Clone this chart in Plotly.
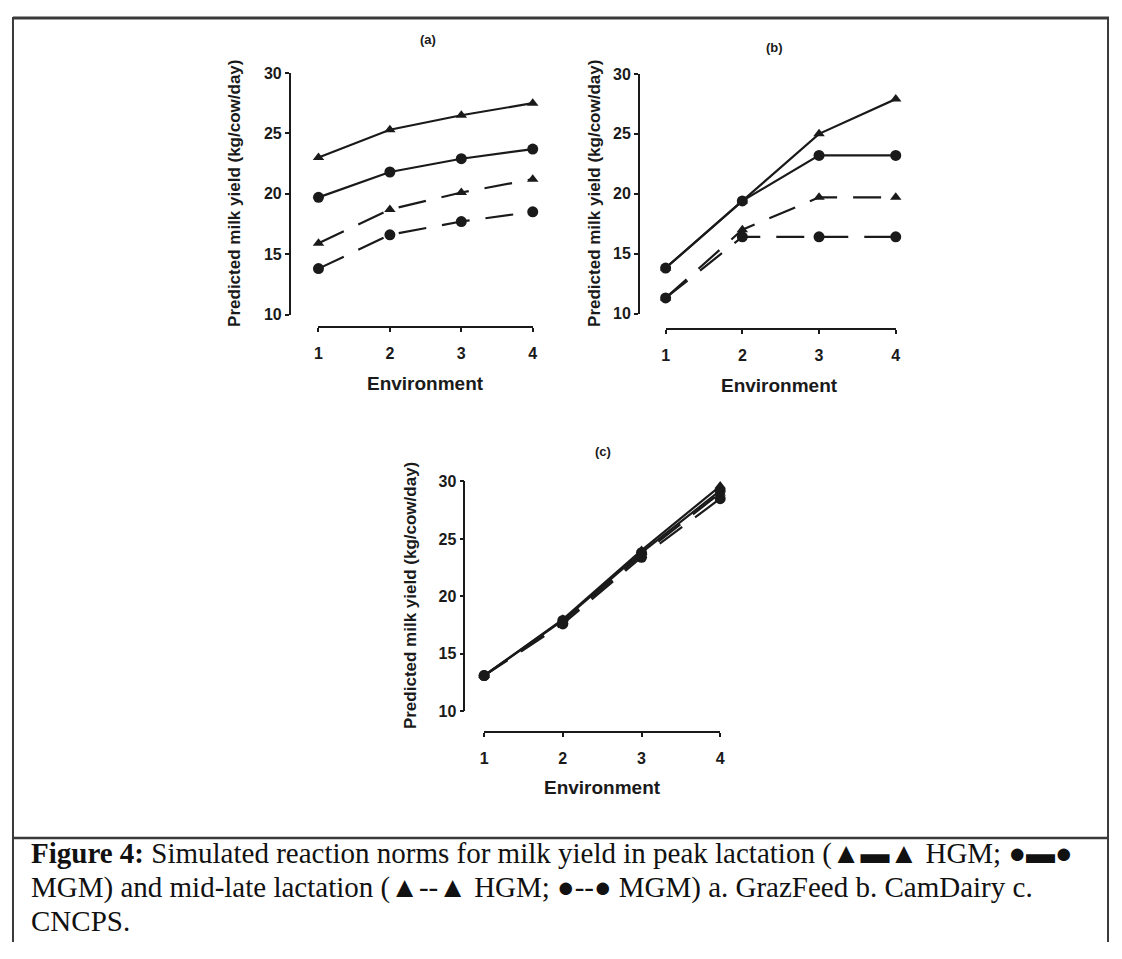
import plotly.graph_objects as go

# ---------------- data ----------------
environment = [1, 2, 3, 4]
y_ticks = [10, 15, 20, 25, 30]

# (a) GrazFeed
a_hgm_peak = [23.0, 25.3, 26.5, 27.5]
a_mgm_peak = [19.7, 21.8, 22.9, 23.7]
a_hgm_mid = [15.9, 18.7, 20.1, 21.2]
a_mgm_mid = [13.8, 16.6, 17.7, 18.5]

# (b) CamDairy
b_hgm_peak = [13.8, 19.4, 25.0, 27.9]
b_mgm_peak = [13.8, 19.4, 23.2, 23.2]
b_hgm_mid = [11.3, 17.0, 19.7, 19.7]
b_mgm_mid = [11.3, 16.4, 16.4, 16.4]

# (c) CNCPS
c_hgm_peak = [13.1, 18.0, 24.0, 29.6]
c_mgm_peak = [13.1, 17.9, 23.8, 29.2]
c_hgm_mid = [13.1, 17.8, 23.6, 29.0]
c_mgm_mid = [13.1, 17.6, 23.4, 28.5]

panel_labels = ["(a)", "(b)", "(c)"]
y_title = "Predicted milk yield (kg/cow/day)"
x_title = "Environment"
caption_lines = [
    "<b>Figure 4:</b> Simulated reaction norms for milk yield in peak lactation (▲▬▲ HGM; ●▬●",
    "MGM) and mid-late lactation (▲--▲ HGM; ●--● MGM) a. GrazFeed b. CamDairy c.",
    "CNCPS.",
]

# page is 1122x959; the html body has an 8px margin, so the figure is 1106x943
PAGE_OFF = 8
W, H = 1122 - 2 * PAGE_OFF, 959 - 2 * PAGE_OFF
FONT = "Liberation Sans, Arial, sans-serif"
SERIF = "Liberation Serif, Times New Roman, serif"
INK = "#1a1a1a"


def px(x):
    return (x - PAGE_OFF) / W


def py(y):
    return 1 - (y - PAGE_OFF) / H


fig = go.Figure()

panels = [
    # series, x-domain px, y-domain px (top,bottom), y-axis x px, x-axis y px
    ((a_hgm_peak, a_mgm_peak, a_hgm_mid, a_mgm_mid), (317, 533), (66, 312), 288, 325),
    ((b_hgm_peak, b_mgm_peak, b_hgm_mid, b_mgm_mid), (667, 899), (67, 311), 640, 327),
    ((c_hgm_peak, c_mgm_peak, c_hgm_mid, c_mgm_mid), (484, 722), (482, 716), 464, 737),
]

styles = [
    ("triangle-up", "solid"),
    ("circle", "solid"),
    ("triangle-up", "28px,16px"),
    ("circle", "28px,16px"),
]

layout_axes = {}
for i, (series, xd, yd, yax_x, xax_y) in enumerate(panels):
    n = "" if i == 0 else str(i + 1)
    for vals, (sym, dash) in zip(series, styles):
        fig.add_trace(go.Scatter(
            x=environment, y=vals, mode="lines+markers",
            xaxis="x" + n, yaxis="y" + n, cliponaxis=False,
            line=dict(color=INK, width=2.2, dash=dash),
            marker=dict(symbol=sym, size=11 if sym == "circle" else 10, color=INK),
            showlegend=False, hoverinfo="skip",
        ))
    layout_axes["xaxis" + n] = dict(
        domain=[px(xd[0]), px(xd[1])], range=[1, 4], anchor="free", position=py(xax_y),
        showline=True, linecolor=INK, linewidth=1.5, ticks="outside", ticklen=4,
        tickwidth=1.5, tickcolor=INK, tickvals=environment, showgrid=False, zeroline=False,
        tickfont=dict(family=FONT, size=16, color=INK, weight="bold"),
        ticklabelstandoff=8,
    )
    layout_axes["yaxis" + n] = dict(
        domain=[py(yd[1]), py(yd[0])], range=[10, 30], anchor="free", position=px(yax_x),
        showline=True, linecolor=INK, linewidth=1.5, ticks="outside", ticklen=4,
        tickwidth=1.5, tickcolor=INK, tickvals=y_ticks, showgrid=False, zeroline=False,
        tickfont=dict(family=FONT, size=16, color=INK, weight="bold"),
    )

annotations = []


def ann(text, x, y, size, angle=0, family=FONT, xanchor="center", color=INK):
    annotations.append(dict(text=text, x=px(x), y=py(y), xref="paper", yref="paper",
                            xanchor=xanchor, yanchor="middle", showarrow=False, align="left",
                            textangle=angle, font=dict(family=family, size=size, color=color)))


for lab, (x, y) in zip(panel_labels, [(427, 32), (777, 40), (604, 451)]):
    ann("<b>%s</b>" % lab, x, y, 13)
for (x, y) in [(233, 189), (596, 189), (410, 598)]:
    ann("<b>%s</b>" % y_title, x, y, 17, angle=-90)
for (x, y) in [(425, 382), (782, 384), (603, 794)]:
    ann("<b>%s</b>" % x_title, x, y, 19)

for line, y in zip(caption_lines, [861, 895, 930]):
    ann(line, 25, y, 29, family=SERIF, xanchor="left", color="#111")

BORDER = "#3a3a3a"
shapes = [
    dict(type="line", xref="paper", yref="paper", x0=px(9), x1=px(1114), y0=py(10), y1=py(10),
         line=dict(color=BORDER, width=3)),
    dict(type="line", xref="paper", yref="paper", x0=px(9), x1=px(9), y0=py(9), y1=0,
         line=dict(color=BORDER, width=2)),
    dict(type="line", xref="paper", yref="paper", x0=px(1113), x1=px(1113), y0=py(9), y1=0,
         line=dict(color=BORDER, width=2)),
    dict(type="line", xref="paper", yref="paper", x0=px(9), x1=px(1114), y0=py(845), y1=py(845),
         line=dict(color=BORDER, width=2.5)),
]

fig.update_layout(
    width=W, height=H, margin=dict(l=0, r=0, t=0, b=0),
    paper_bgcolor="white", plot_bgcolor="white",
    annotations=annotations, shapes=shapes, showlegend=False,
    **layout_axes,
)

fig.write_html("out.html")
